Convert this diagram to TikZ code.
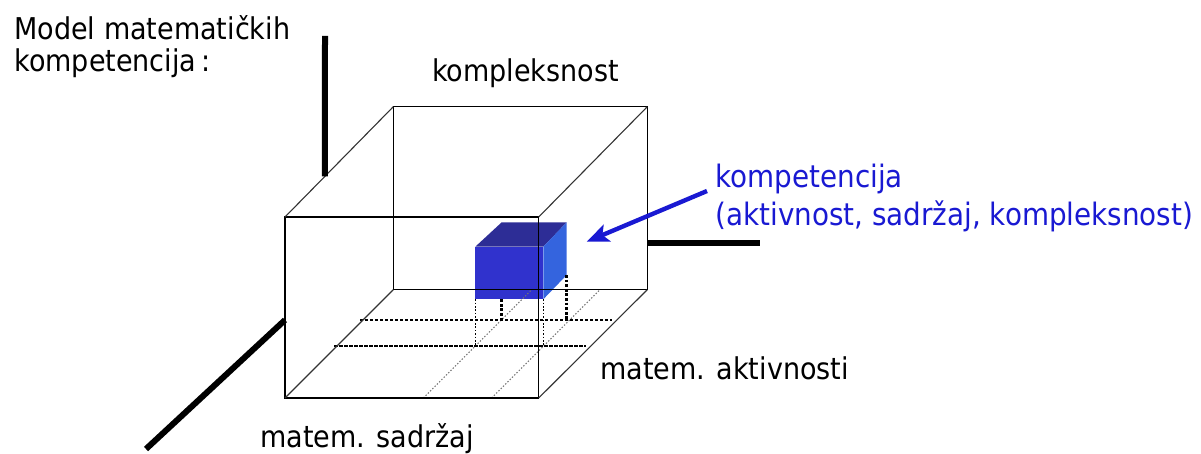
\documentclass[tikz,border=0pt]{standalone}
\usepackage{fontspec}
\setmainfont{DejaVu Sans}[FakeStretch=0.9]
\usetikzlibrary{arrows.meta,calc}

\definecolor{labelblue}{RGB}{25,25,210}
\definecolor{cubefront}{RGB}{48,50,205}
\definecolor{cubetop}{RGB}{45,45,150}
\definecolor{cubeside}{RGB}{52,100,222}

\begin{document}
\begin{tikzpicture}[x=0.5pt,y=-0.5pt,
  lbl/.style={font=\fontsize{15}{16}\selectfont, inner sep=0pt, anchor=base west},
  bluelbl/.style={lbl, font=\fontsize{15.45}{16}\selectfont, text=labelblue},
  edge/.style={line width=0.6pt, draw=black},
  depthedge/.style={line width=0.55pt, draw=black!80},
  axisline/.style={line width=3pt, draw=black},
  gridline/.style={line width=1pt, draw=black, dash pattern=on 1.6pt off 0.9pt},
  thindrop/.style={line width=0.6pt, draw=black, dash pattern=on 0.8pt off 0.9pt},
  thickdrop/.style={line width=1.3pt, draw=black, dash pattern=on 1.4pt off 0.9pt},
  floordiag/.style={line width=0.5pt, draw=black!55, dash pattern=on 0.7pt off 0.9pt},
  pointer/.style={line width=2.2pt, draw=labelblue, -{Stealth[length=11pt,width=9pt,inset=2.5pt]}}]

\useasboundingbox (0,0) rectangle (1201,454);

% corners of the outer box (front and back faces)
\coordinate (F1) at (285,217);   \coordinate (F2) at (538.7,217);
\coordinate (F3) at (538.7,398); \coordinate (F4) at (285,398);
\coordinate (B1) at (393.3,106.7); \coordinate (B2) at (647.3,106.7);
\coordinate (B3) at (647.3,289.7); \coordinate (B4) at (393.3,289.7);

% the small cube
\coordinate (c1) at (475.3,246.7); \coordinate (c2) at (543.3,246.7);
\coordinate (c3) at (543.3,299.3); \coordinate (c4) at (475.3,299.3);
\coordinate (c5) at (501.7,222.3); \coordinate (c6) at (566.7,222.3);
\coordinate (c7) at (566.7,275);   \coordinate (c8) at (501.7,299.3);

\fill[cubetop] (c1) -- (c5) -- (c6) -- (c2) -- cycle;
\fill[cubeside] (c2) -- (c6) -- (c7) -- (c3) -- cycle;
\fill[cubefront] (c1) rectangle (c3);

% floor grid under the cube
\coordinate (g1) at (334.3,346.3); \coordinate (g2) at (586,346.3);
\coordinate (g3) at (360,320);     \coordinate (g4) at (611.7,320);
\coordinate (d1) at (423.3,398);   \coordinate (d2) at (531.6,289.7);
\coordinate (d3) at (491.7,398);   \coordinate (d4) at (600,289.7);
\coordinate (p1) at (475.3,346.3); \coordinate (p2) at (543.3,346.3);
\coordinate (p3) at (501.7,320);   \coordinate (p4) at (566.7,320);

\draw[floordiag] (d1) -- (d2);
\draw[floordiag] (d3) -- (d4);
\draw[gridline] (g1) -- (g2);
\draw[gridline] (g3) -- (g4);
\draw[thindrop] (c4) -- (p1);
\draw[thindrop] (c3) -- (p2);
\draw[thickdrop] (c8) -- (p3);
\draw[thickdrop] (c7) -- (p4);

% outer box
\draw[edge] (B1) rectangle (B3);
\draw[edge] (F1) rectangle (F3);
\draw[depthedge] (F1) -- (B1) (F2) -- (B2) (F3) -- (B3) (F4) -- (B4);

% axes
\coordinate (ax1) at ($(F1)!0.369!(B1)$);
\coordinate (ax1e) at (325,36);
\coordinate (ax2) at (647.3,243.3);
\coordinate (ax2e) at (760,243.3);
\coordinate (ax3) at (285,320);
\coordinate (ax3e) at (146,449);
\draw[axisline] (ax1) -- (ax1e);
\draw[axisline] (ax2) -- (ax2e);
\draw[axisline] (ax3) -- (ax3e);

% labels
\node[lbl] (title1) at (14,39.3) {Model matematičkih};
\node[lbl] (title2) at (14,71.7) {kompetencija\hspace{2.5pt}:};
\node[lbl] (kompl) at (431.7,81.7) {kompleksnost};
\node[bluelbl] (comp1) at (715,188) {kompetencija};
\node[bluelbl] (comp2) at (715,225.5) {(aktivnost, sadržaj, kompleksnost)};
\node[lbl] (aktiv) at (600,380) {matem. aktivnosti};
\node[lbl] (sadr) at (260,448) {matem. sadržaj};

% pointer from the label to the cube
\coordinate (tail) at (707,191);
\coordinate (tip) at (586.7,241.7);
\draw[pointer] (tail) -- (tip);
\end{tikzpicture}
\end{document}
